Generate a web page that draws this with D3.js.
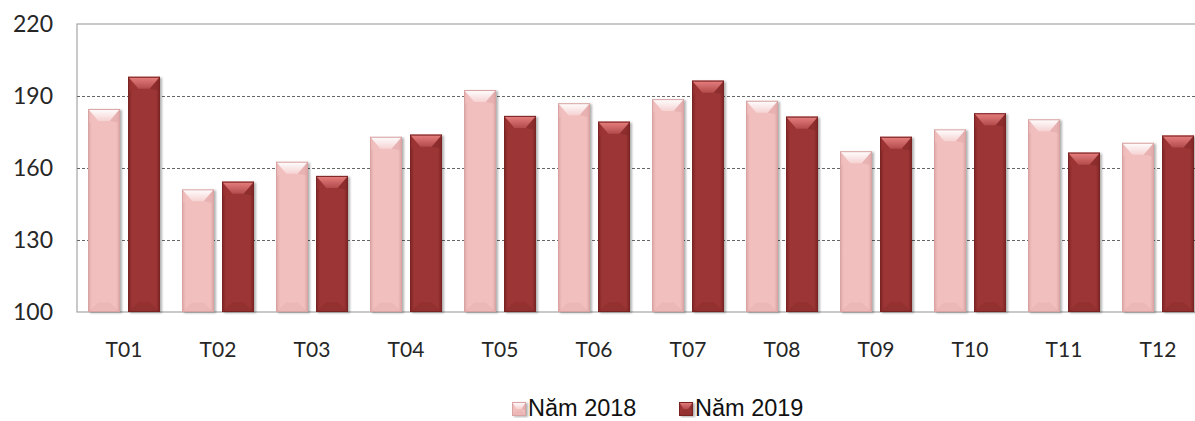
<!DOCTYPE html>
<html>
<head>
<meta charset="utf-8">
<script src="https://cdn.jsdelivr.net/npm/d3@7"></script>
<style>
  body { margin: 0; background: #fff; }
  svg { display: block; }
</style>
</head>
<body>
<div id="chart"></div>
<script>
const months = ["T01", "T02", "T03", "T04", "T05", "T06", "T07", "T08", "T09", "T10", "T11", "T12"]
const seriesNames = ["Năm 2018", "Năm 2019"]
const values2018 = [184.6, 151.1, 162.6, 173, 192.5, 187, 188.7, 188, 167, 176.1, 180.3, 170.5]
const values2019 = [198, 154.3, 156.7, 173.9, 181.7, 179.3, 196.4, 181.4, 173, 182.8, 166.4, 173.5]
const yTicks = [100, 130, 160, 190, 220]

const width = 1195,
    height = 421;

const plot = { left: 77, right: 1205, top: 24, bottom: 312 }

const colors = [
    { body: "#f2bfbf", edge: "#d9a3a3", dark: "#e2aaaa", light: "#ffffff" },
    { body: "#9c3434", edge: "#7a2323", dark: "#832828", light: "#e88080" }
]

const svg = d3.select("#chart")
    .append("svg")
    .attr("width", width)
    .attr("height", height)

const defs = svg.append("defs")

const shadow = defs.append("filter").attr("id", "shadow")
    .attr("x", "-20%").attr("y", "-5%").attr("width", "150%").attr("height", "115%")
shadow.append("feDropShadow")
    .attr("dx", 2).attr("dy", 1).attr("stdDeviation", 1.2)
    .attr("flood-color", "#000").attr("flood-opacity", 0.3)

colors.forEach(function (c, i) {
    const body = defs.append("linearGradient").attr("id", "body" + i)
        .attr("x1", 0).attr("x2", 1).attr("y1", 0).attr("y2", 0)
    body.append("stop").attr("offset", "0%").attr("stop-color", c.edge)
    body.append("stop").attr("offset", "12%").attr("stop-color", c.body)
    body.append("stop").attr("offset", "88%").attr("stop-color", c.body)
    body.append("stop").attr("offset", "100%").attr("stop-color", c.edge)

    const top = defs.append("linearGradient").attr("id", "top" + i)
        .attr("x1", 0).attr("x2", 0).attr("y1", 0).attr("y2", 1)
    top.append("stop").attr("offset", "0%").attr("stop-color", c.light).attr("stop-opacity", 1)
    top.append("stop").attr("offset", "100%").attr("stop-color", c.light).attr("stop-opacity", 0.3)
})

const y = d3.scaleLinear()
    .domain([100, 220])
    .range([plot.bottom, plot.top])

const x0 = d3.scaleBand()
    .domain(months)
    .range([plot.left, plot.right])

const x1 = d3.scaleBand()
    .domain(seriesNames)
    .range([11, x0.bandwidth() - 11])
    .paddingInner(0.2)

// frame
svg.append("rect")
    .attr("x", plot.left)
    .attr("y", plot.top)
    .attr("width", plot.right - plot.left)
    .attr("height", plot.bottom - plot.top)
    .attr("fill", "none")
    .attr("stroke", "#a6a6a6")
    .attr("stroke-width", 1.2)

svg.append("g")
    .selectAll("line")
    .data(yTicks.slice(1, -1))
    .join("line")
    .attr("x1", plot.left)
    .attr("x2", plot.right)
    .attr("y1", function (d) { return Math.round(y(d)) + 0.5 })
    .attr("y2", function (d) { return Math.round(y(d)) + 0.5 })
    .attr("stroke", "#666")
    .attr("stroke-dasharray", "3,2")

svg.append("g")
    .selectAll("text")
    .data(yTicks)
    .join("text")
    .attr("x", 53)
    .attr("y", function (d) { return y(d) })
    .attr("dy", "0.35em")
    .attr("text-anchor", "end")
    .style("font-family", "Lato, 'Open Sans', sans-serif")
    .style("font-size", "23px")
    .style("fill", "#262626")
    .text(function (d) { return d })

svg.append("g")
    .selectAll("text")
    .data(months)
    .join("text")
    .attr("x", function (d) { return x0(d) + x0.bandwidth() / 2 })
    .attr("y", 357)
    .attr("text-anchor", "middle")
    .style("font-family", "Lato, 'Open Sans', sans-serif")
    .style("font-size", "21px")
    .style("fill", "#262626")
    .text(function (d) { return d })

function bevelBar(g, x, yTop, w, h, i) {
    const c = colors[i]
    const b = Math.min(12, h / 2)
    const xc = x + w / 2
    g.append("rect")
        .attr("x", x).attr("y", yTop).attr("width", w).attr("height", h)
        .attr("fill", "url(#body" + i + ")")
        .attr("filter", "url(#shadow)")
    // top facet
    g.append("path")
        .attr("d", `M${x},${yTop} L${x + w},${yTop} L${xc + w * 0.18},${yTop + b} L${xc - w * 0.18},${yTop + b} Z`)
        .attr("fill", "url(#top" + i + ")")
    // side facets near the top
    g.append("path")
        .attr("d", `M${x},${yTop} L${xc - w * 0.18},${yTop + b} L${x},${yTop + b + 2} Z`)
        .attr("fill", c.body).attr("opacity", 0.6)
    g.append("path")
        .attr("d", `M${x + w},${yTop} L${xc + w * 0.18},${yTop + b} L${x + w},${yTop + b + 2} Z`)
        .attr("fill", c.dark).attr("opacity", 0.6)
    // bottom facet
    const yb = yTop + h
    g.append("path")
        .attr("d", `M${x},${yb} L${x + w},${yb} L${xc + w * 0.18},${yb - b * 0.8} L${xc - w * 0.18},${yb - b * 0.8} Z`)
        .attr("fill", c.dark).attr("opacity", 0.35)
    g.append("rect")
        .attr("x", x + 0.5).attr("y", yTop + 0.5).attr("width", w - 1).attr("height", h - 1)
        .attr("fill", "none").attr("stroke", c.edge).attr("stroke-width", 1)
}

const groups = svg.append("g")
    .selectAll("g")
    .data(months)
    .join("g")
    .attr("transform", function (d) { return `translate(${x0(d)},0)` })

groups.each(function (m, k) {
    const g = d3.select(this)
    const vals = [values2018[k], values2019[k]]
    seriesNames.forEach(function (s, i) {
        const yt = y(vals[i])
        bevelBar(g, x1(s), yt, x1.bandwidth(), y(100) - yt, i)
    })
})

// legend
const legendItems = [
    { name: seriesNames[0], x: 512 },
    { name: seriesNames[1], x: 679 }
]

const legend = svg.append("g")
    .selectAll("g")
    .data(legendItems)
    .join("g")
    .attr("transform", function (d) { return `translate(${d.x},402)` })

legend.each(function (d, i) {
    bevelBar(d3.select(this), 0, 0, 14, 14, i)
})

legend.append("text")
    .attr("x", 16)
    .attr("y", 14)
    .style("font-family", "'Liberation Sans', Arial, sans-serif")
    .style("font-size", "23.5px")
    .style("fill", "#111")
    .text(function (d) { return d.name })
</script>
</body>
</html>
